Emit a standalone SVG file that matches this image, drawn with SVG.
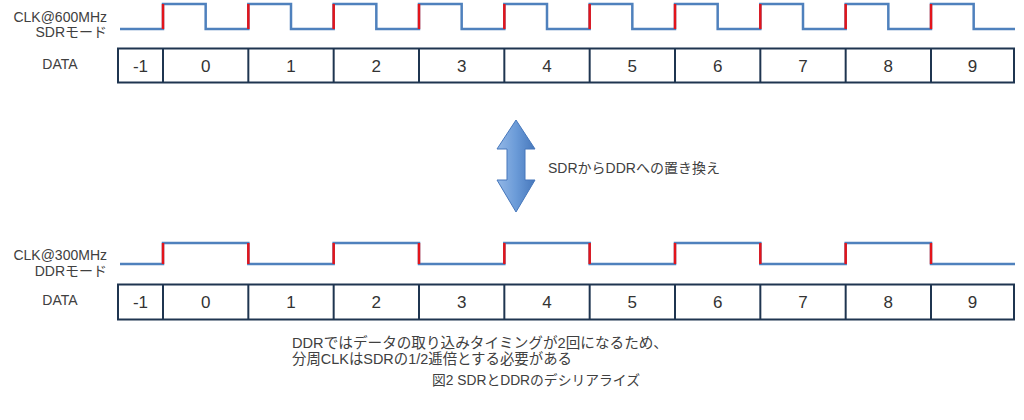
<svg xmlns="http://www.w3.org/2000/svg" width="1024" height="420" viewBox="0 0 1024 420">
<style>
text{font-family:"Liberation Sans","Noto Sans CJK JP",sans-serif;fill:#404040}
.lbl{font-size:14px;text-anchor:end}
.dl{font-size:14px;text-anchor:middle}
.num{font-size:17px;text-anchor:middle;fill:#333}
.clk{fill:none;stroke:#4f81bd;stroke-width:2.5;stroke-linejoin:miter}
.edge{stroke:#e3141b;stroke-width:2.5}
.box{fill:#fff;stroke:#1f3550;stroke-width:2}
.div{stroke:#1f3550;stroke-width:2}
.note{font-size:14.5px}
</style>
<defs>
<linearGradient id="ag" x1="0" y1="0" x2="1" y2="0">
<stop offset="0" stop-color="#94b8e6"/>
<stop offset="0.5" stop-color="#6b9bd8"/>
<stop offset="1" stop-color="#4677bb"/>
</linearGradient>
</defs>

<g id="sdr-label">
<text class="lbl" x="107" y="21.5">CLK@600MHz</text>
<text class="lbl" x="107" y="36.5">SDRモード</text>
</g>

<g id="sdr-clock">
<path class="clk" d="M120,29 H163 V4 H205.67 V29 H248.33 V4 H291 V29 H333.67 V4 H376.33 V29 H419 V4 H461.67 V29 H504.33 V4 H547 V29 H589.67 V4 H632.33 V29 H675 V4 H717.67 V29 H760.33 V4 H803 V29 H845.67 V4 H888.33 V29 H931 V4 H973.67 V29 H1015"/>
<g class="edge">
<line x1="163" y1="29" x2="163" y2="4"/>
<line x1="248.33" y1="29" x2="248.33" y2="4"/>
<line x1="333.67" y1="29" x2="333.67" y2="4"/>
<line x1="419" y1="29" x2="419" y2="4"/>
<line x1="504.33" y1="29" x2="504.33" y2="4"/>
<line x1="589.67" y1="29" x2="589.67" y2="4"/>
<line x1="675" y1="29" x2="675" y2="4"/>
<line x1="760.33" y1="29" x2="760.33" y2="4"/>
<line x1="845.67" y1="29" x2="845.67" y2="4"/>
<line x1="931" y1="29" x2="931" y2="4"/>
</g>
</g>

<g id="sdr-data">
<text class="dl" x="60" y="68.5">DATA</text>
<rect class="box" x="118" y="48.5" width="896" height="34"/>
<g class="div">
<line x1="163" y1="48.5" x2="163" y2="82.5"/>
<line x1="248.33" y1="48.5" x2="248.33" y2="82.5"/>
<line x1="333.67" y1="48.5" x2="333.67" y2="82.5"/>
<line x1="419" y1="48.5" x2="419" y2="82.5"/>
<line x1="504.33" y1="48.5" x2="504.33" y2="82.5"/>
<line x1="589.67" y1="48.5" x2="589.67" y2="82.5"/>
<line x1="675" y1="48.5" x2="675" y2="82.5"/>
<line x1="760.33" y1="48.5" x2="760.33" y2="82.5"/>
<line x1="845.67" y1="48.5" x2="845.67" y2="82.5"/>
<line x1="931" y1="48.5" x2="931" y2="82.5"/>
</g>
<text class="num" x="140.5" y="72">-1</text>
<text class="num" x="205.67" y="72">0</text>
<text class="num" x="291" y="72">1</text>
<text class="num" x="376.33" y="72">2</text>
<text class="num" x="461.67" y="72">3</text>
<text class="num" x="547" y="72">4</text>
<text class="num" x="632.33" y="72">5</text>
<text class="num" x="717.67" y="72">6</text>
<text class="num" x="803" y="72">7</text>
<text class="num" x="888.33" y="72">8</text>
<text class="num" x="972.5" y="72">9</text>
</g>

<g id="conversion-arrow">
<polygon points="516,120 535,149 525,149 525,180 535,180 516,212 497,180 507,180 507,149 497,149" fill="url(#ag)" stroke="#4677bb" stroke-width="1"/>
<text x="548" y="173" style="font-size:14px">SDRからDDRへの置き換え</text>
</g>

<g id="ddr-label">
<text class="lbl" x="107" y="259.5">CLK@300MHz</text>
<text class="lbl" x="107" y="276">DDRモード</text>
</g>

<g id="ddr-clock">
<path class="clk" d="M120,264 H163 V243 H248.33 V264 H333.67 V243 H419 V264 H504.33 V243 H589.67 V264 H675 V243 H760.33 V264 H845.67 V243 H931 V264 H1015"/>
<g class="edge">
<line x1="163" y1="264" x2="163" y2="243"/>
<line x1="248.33" y1="264" x2="248.33" y2="243"/>
<line x1="333.67" y1="264" x2="333.67" y2="243"/>
<line x1="419" y1="264" x2="419" y2="243"/>
<line x1="504.33" y1="264" x2="504.33" y2="243"/>
<line x1="589.67" y1="264" x2="589.67" y2="243"/>
<line x1="675" y1="264" x2="675" y2="243"/>
<line x1="760.33" y1="264" x2="760.33" y2="243"/>
<line x1="845.67" y1="264" x2="845.67" y2="243"/>
<line x1="931" y1="264" x2="931" y2="243"/>
</g>
</g>

<g id="ddr-data">
<text class="dl" x="60" y="304.5">DATA</text>
<rect class="box" x="118" y="284.5" width="896" height="35"/>
<g class="div">
<line x1="163" y1="284.5" x2="163" y2="319.5"/>
<line x1="248.33" y1="284.5" x2="248.33" y2="319.5"/>
<line x1="333.67" y1="284.5" x2="333.67" y2="319.5"/>
<line x1="419" y1="284.5" x2="419" y2="319.5"/>
<line x1="504.33" y1="284.5" x2="504.33" y2="319.5"/>
<line x1="589.67" y1="284.5" x2="589.67" y2="319.5"/>
<line x1="675" y1="284.5" x2="675" y2="319.5"/>
<line x1="760.33" y1="284.5" x2="760.33" y2="319.5"/>
<line x1="845.67" y1="284.5" x2="845.67" y2="319.5"/>
<line x1="931" y1="284.5" x2="931" y2="319.5"/>
</g>
<text class="num" x="140.5" y="308">-1</text>
<text class="num" x="205.67" y="308">0</text>
<text class="num" x="291" y="308">1</text>
<text class="num" x="376.33" y="308">2</text>
<text class="num" x="461.67" y="308">3</text>
<text class="num" x="547" y="308">4</text>
<text class="num" x="632.33" y="308">5</text>
<text class="num" x="717.67" y="308">6</text>
<text class="num" x="803" y="308">7</text>
<text class="num" x="888.33" y="308">8</text>
<text class="num" x="972.5" y="308">9</text>
</g>

<g id="notes">
<text class="note" x="292" y="348" textLength="376" lengthAdjust="spacingAndGlyphs">DDRではデータの取り込みタイミングが2回になるため、</text>
<text class="note" x="292" y="364" textLength="280" lengthAdjust="spacingAndGlyphs">分周CLKはSDRの1/2逓倍とする必要がある</text>
<text x="432" y="385" style="font-size:13.8px" textLength="208" lengthAdjust="spacingAndGlyphs">図2 SDRとDDRのデシリアライズ</text>
</g>
</svg>
